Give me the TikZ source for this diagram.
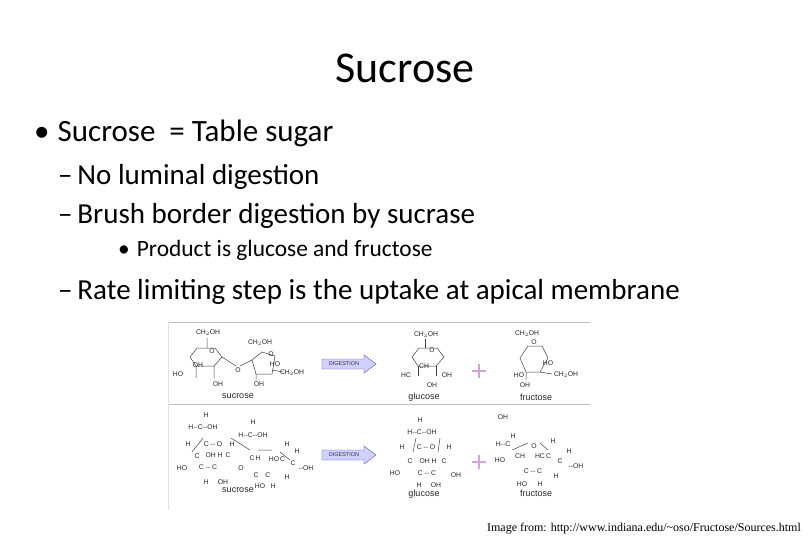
\documentclass[tikz,border=0pt]{standalone}
\usepackage{fontspec}
\setmainfont{Carlito}
\newfontfamily\chemf{Liberation Sans}
\newfontfamily\capf{Liberation Serif}
\begin{document}
\begin{tikzpicture}[x=1pt,y=-1pt,
  body/.style={anchor=base west,inner sep=0pt},
  ch/.style={font=\chemf\fontsize{6.8}{7}\selectfont,inner sep=0pt,text=black!85},
  lbl/.style={font=\chemf\fontsize{9}{9}\selectfont,inner sep=0pt,text=black!85},
  bond/.style={draw=black!75,line width=0.5pt},
  arr/.style={fill=blue!18!white,draw=blue!35!gray,line width=0.4pt},
  plus/.style={draw=violet!35!white,line width=2.5pt}]
\useasboundingbox (0,0) rectangle (810,540);
\node[font=\fontsize{44}{46}\selectfont] (title) at (405,68) {Sucrose};
\node[body,font=\fontsize{31}{33}\selectfont] (b1) at (34,142) {•\hspace{8pt}Sucrose \ = Table sugar};
\node[body,font=\fontsize{29}{31}\selectfont] (b2) at (58,184) {–\,No luminal digestion};
\node[body,font=\fontsize{29}{31}\selectfont] (b3) at (58,223) {–\,Brush border digestion by sucrase};
\node[body,font=\fontsize{23.4}{25}\selectfont] (b4) at (118,256) {•\hspace{7pt}Product is glucose and fructose};
\node[body,font=\fontsize{29}{31}\selectfont] (b5) at (58,299) {–\,Rate limiting step is the uptake at apical membrane};
% image frame
\draw[black!25,line width=0.6pt] (168,322) -- (590,322);
\draw[black!25,line width=0.6pt] (168,404) -- (590,404);
\draw[black!12] (168,322) -- (168,510);
% top row rings
\draw[bond] (190,357) -- (197,348) -- (215,348) -- (222,357) -- (214,366) -- (196,366) -- cycle;
\draw[bond] (207,348) -- (207,338) (196,366) -- (196,378) (214,366) -- (214,378) (222,357) -- (236,366);
\draw[bond] (240,366) -- (252,360) -- (262,352) -- (275,356) -- (272,374) -- (256,374) -- (252,360);
\draw[bond] (272,370) -- (283,372) (256,374) -- (256,380);
\draw[bond] (412,357) -- (419,348) -- (437,348) -- (444,357) -- (436,366) -- (418,366) -- cycle;
\draw[bond] (425,348) -- (425,339) (418,366) -- (418,376) (436,366) -- (436,376);
\draw[bond] (520,358) -- (528,346) -- (542,346) -- (548,358) -- (540,372) -- (526,372) -- cycle;
\draw[bond] (540,372) -- (552,374) (526,372) -- (526,380);
\foreach \p/\t in {{(208,333)}/CH$_2$OH,{(212,351)}/O,{(198,365)}/OH,{(178,374)}/HO,{(218,384)}/OH,{(238,370)}/O,{(260,343)}/CH$_2$OH,{(271,354)}/O,{(275,364)}/HO,{(292,373)}/CH$_2$OH,{(259,384)}/OH,
 {(426,335)}/CH$_2$OH,{(432,350)}/O,{(424,366)}/CH,{(406,375)}/HC,{(447,375)}/OH,{(432,385)}/OH,
 {(527,334)}/CH$_2$OH,{(534,342)}/O,{(548,363)}/HO,{(519,375)}/HO,{(566,375)}/CH$_2$OH,{(525,385)}/OH}
  \node[ch] at \p {\t};
\node[lbl] (s1) at (238,396) {sucrose};
\node[lbl] (g1) at (424,397) {glucose};
\node[lbl] (f1) at (536,397) {fructose};
% bottom row
\foreach \p/\t in {{(206,415)}/H,{(203,427)}/H--C--OH,{(188,444)}/H,{(213,444)}/C -- O,{(232,444)}/H,{(253,422)}/H,{(253,435)}/H--C--OH,{(287,444)}/H,
 {(197,456)}/C,{(214,455)}/OH\ H,{(228,455)}/C,{(241,468)}/O,{(255,458)}/C\,H,{(277,459)}/HO\,C,{(297,451)}/H,{(293,463)}/C,{(306,468)}/--OH,
 {(182,468)}/HO,{(208,467)}/C -- C,{(206,482)}/H,{(223,482)}/OH,{(262,475)}/C\quad C,{(260,486)}/HO,{(273,486)}/H,{(287,477)}/H,
 {(420,420)}/H,{(422,432)}/H--C--OH,{(402,447)}/H,{(426,447)}/C -- O,{(449,447)}/H,{(410,461)}/C,{(428,461)}/OH\ H,{(444,461)}/C,{(395,473)}/HO,{(427,473)}/C -- C,{(456,475)}/OH,{(419,485)}/H,{(436,485)}/OH,
 {(503,417)}/OH,{(503,444)}/H--C,{(513,436)}/H,{(534,446)}/O,{(553,441)}/H,{(500,460)}/HO,{(520,456)}/CH,{(543,456)}/HC\,C,{(560,461)}/C,{(569,451)}/H,{(576,466)}/--OH,{(533,471)}/C -- C,{(556,476)}/H,{(522,484)}/HO,{(540,484)}/H}
  \node[ch] at \p {\t};
\draw[bond] (203,438) -- (192,452) (231,438) -- (250,450) (258,450) -- (272,450) (280,452) -- (290,460);
\draw[bond] (413,452) -- (416,438) (438,452) -- (440,438);
\draw[bond] (512,450) -- (528,443) (540,443) -- (548,450);
\node[lbl] (s2) at (238,490) {sucrose};
\node[lbl] (g2) at (424,494) {glucose};
\node[lbl] (f2) at (536,493) {fructose};
% arrows and plus
\foreach \y/\n in {364/a1,455/a2}{
  \draw[arr] (322,\y-5) -- (364,\y-5) -- (364,\y-9) -- (376,\y) -- (364,\y+9) -- (364,\y+5) -- (322,\y+5) -- cycle;
  \node[font=\chemf\fontsize{5.5}{6}\selectfont,text=black!80] (\n) at (344,\y) {DIGESTION};
  \draw[plus] (472,\y+7) -- (486,\y+7) (479,\y) -- (479,\y+14);
}
\node[font=\capf\fontsize{12}{12}\selectfont,anchor=base east,inner sep=0pt] (cap) at (801,531) {Image from: http://www.indiana.edu/\textasciitilde oso/Fructose/Sources.html};
\end{tikzpicture}
\end{document}
